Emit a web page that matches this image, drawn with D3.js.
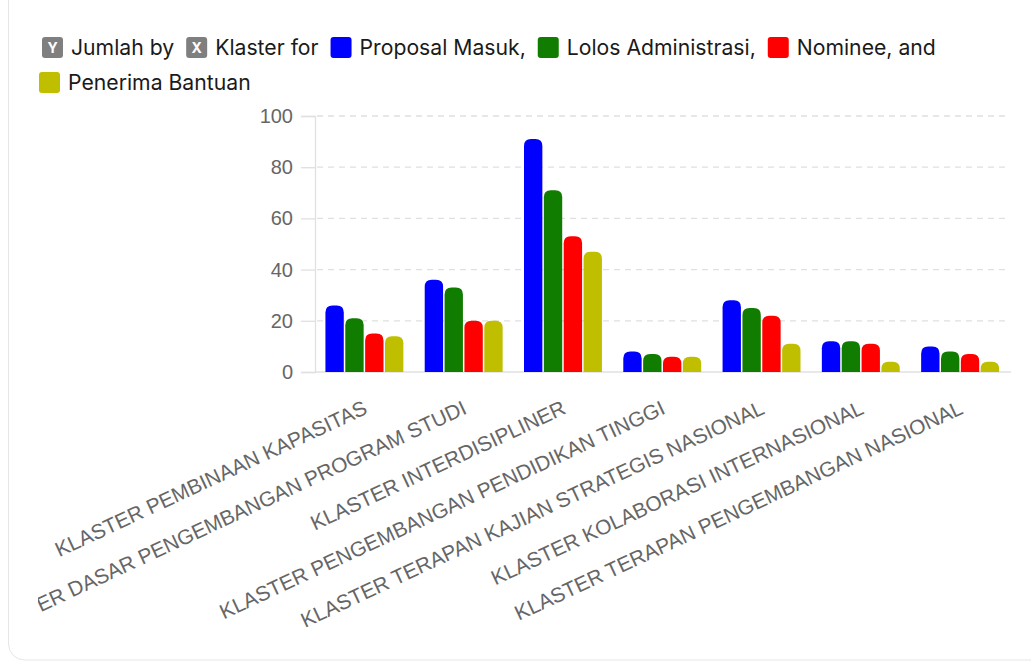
<!DOCTYPE html>
<html>
<head>
<meta charset="utf-8">
<script src="https://cdn.jsdelivr.net/npm/d3@7"></script>
<style>
  html, body { margin: 0; padding: 0; background: #fff; }
  svg { display: block; }
</style>
</head>
<body>
<svg id="chart" width="1031" height="664"></svg>
<script>
const categories = [
  "KLASTER PEMBINAAN KAPASITAS",
  "KLASTER DASAR PENGEMBANGAN PROGRAM STUDI",
  "KLASTER INTERDISIPLINER",
  "KLASTER PENGEMBANGAN PENDIDIKAN TINGGI",
  "KLASTER TERAPAN KAJIAN STRATEGIS NASIONAL",
  "KLASTER KOLABORASI INTERNASIONAL",
  "KLASTER TERAPAN PENGEMBANGAN NASIONAL"
];
const seriesNames = ["Proposal Masuk", "Lolos Administrasi", "Nominee", "Penerima Bantuan"];
const seriesColors = ["#0000ff", "#107c00", "#ff0000", "#bfbf00"];
const proposalMasuk     = [26, 36, 91, 8, 28, 12, 10];
const lolosAdministrasi = [21, 33, 71, 7, 25, 12, 8];
const nominee           = [15, 20, 53, 6, 22, 11, 7];
const penerimaBantuan   = [14, 20, 47, 6, 11, 4, 4];
const yTicks = [0, 20, 40, 60, 80, 100];

const seriesValues = [proposalMasuk, lolosAdministrasi, nominee, penerimaBantuan];

(function () {
const svg = d3.select("#chart");

// card
svg.append("rect")
  .attr("x", 8.5).attr("y", -30).attr("width", 1060).attr("height", 690)
  .attr("rx", 16).attr("fill", "#fff").attr("stroke", "#e6e6e6").attr("stroke-width", 1);

// clip (the reference card clips the long second label on the left)
svg.append("defs").append("clipPath").attr("id", "clip")
  .append("rect").attr("x", 38).attr("y", 0).attr("width", 993).attr("height", 664);

const root = svg.append("g").attr("clip-path", "url(#clip)");

// Legend
const legendFont = "Inter, 'Noto Sans', sans-serif";
const legendItems = [
  {type: "badge", label: "Y"}, {type: "text", label: "Jumlah by"},
  {type: "badge", label: "X"}, {type: "text", label: "Klaster for"},
  {type: "swatch", color: seriesColors[0]}, {type: "text", label: "Proposal Masuk,"},
  {type: "swatch", color: seriesColors[1]}, {type: "text", label: "Lolos Administrasi,"},
  {type: "swatch", color: seriesColors[2]}, {type: "text", label: "Nominee, and"},
  {type: "swatch", color: seriesColors[3]}, {type: "text", label: "Penerima Bantuan"}
];
const legend = root.append("g");
let lx = 42, ly = 0;
const lineY = [37, 72];
const maxX = 1000;
for (let i = 0; i < legendItems.length; i += 2) {
  const box = legendItems[i], txt = legendItems[i + 1];
  const t = legend.append("text")
    .attr("font-family", legendFont).attr("font-size", 21.2).attr("fill", "#1a1a1a")
    .text(txt.label);
  const tw = t.node().getComputedTextLength();
  if (lx + 29 + tw > maxX) { ly += 1; lx = 39; }
  const by = lineY[ly];
  const fill = box.type === "badge" ? "#7f7f7f" : box.color;
  legend.append("rect").attr("x", lx).attr("y", by).attr("width", 21).attr("height", 21)
    .attr("rx", 3).attr("fill", fill);
  if (box.type === "badge") {
    legend.append("text").attr("x", lx + 10.5).attr("y", by + 16)
      .attr("text-anchor", "middle").attr("font-family", legendFont)
      .attr("font-size", 14).attr("font-weight", 700).attr("fill", "#fff").text(box.label);
  }
  t.attr("x", lx + 29).attr("y", by + 18);
  lx = lx + 29 + tw + 12;
}

// Scales
const pLeft = 315, pRight = 1010, pTop = 116, pBottom = 372;
const x0 = d3.scaleBand().domain(categories).range([pLeft, pRight]).paddingInner(0.2).paddingOuter(0.1);
const x1 = d3.scaleBand().domain(seriesNames).range([0, x0.bandwidth()]);
const y = d3.scaleLinear().domain([0, 100]).range([pBottom, pTop]);

const axisFont = "'Liberation Sans', Arial, sans-serif";

// gridlines
root.append("g").selectAll("line").data(yTicks.filter(d => d > 0)).join("line")
  .attr("x1", pLeft + 2).attr("x2", pRight - 3)
  .attr("y1", d => y(d)).attr("y2", d => y(d))
  .attr("stroke", "#e0e0e0").attr("stroke-width", 1.3).attr("stroke-dasharray", "6,5");

// y axis
const yAxis = root.append("g").attr("transform", `translate(${pLeft},0)`)
  .call(d3.axisLeft(y).tickValues(yTicks).tickSize(14).tickPadding(8));
yAxis.select(".domain").attr("stroke", "#e0e0e0").attr("stroke-width", 1.3);
yAxis.selectAll(".tick line").attr("stroke", "#e0e0e0").attr("stroke-width", 1.3);
yAxis.selectAll(".tick text").attr("font-family", axisFont).attr("font-size", 20).attr("fill", "#666");

// baseline
root.append("line").attr("x1", pLeft).attr("x2", pRight + 1).attr("y1", y(0)).attr("y2", y(0))
  .attr("stroke", "#e0e0e0").attr("stroke-width", 1.3);

// bars
function topRoundedRect(x, yTop, w, h, r) {
  r = Math.min(r, w / 2, h);
  return `M${x},${yTop + h}V${yTop + r}Q${x},${yTop} ${x + r},${yTop}H${x + w - r}Q${x + w},${yTop} ${x + w},${yTop + r}V${yTop + h}Z`;
}
const barData = [];
categories.forEach((c, ci) => {
  seriesNames.forEach((s, si) => {
    barData.push({cat: c, series: s, value: seriesValues[si][ci], color: seriesColors[si]});
  });
});
root.append("g").selectAll("path").data(barData).join("path")
  .attr("d", d => {
    const bx = x0(d.cat) + x1(d.series);
    const yt = y(d.value);
    return topRoundedRect(bx + 0.5, yt, x1.bandwidth() - 1.5, y(0) - yt, 7);
  })
  .attr("fill", d => d.color);

// x labels
const xAxis = root.append("g").attr("transform", `translate(0,${pBottom})`)
  .call(d3.axisBottom(x0).tickSize(0).tickPadding(0));
xAxis.select(".domain").remove();
xAxis.selectAll(".tick text")
  .attr("font-family", axisFont).attr("font-size", 20.8).attr("fill", "#666")
  .attr("text-anchor", "end")
  .attr("dy", 0)
  .attr("transform", "translate(4,41) rotate(-25)");
})();
</script>
</body>
</html>
